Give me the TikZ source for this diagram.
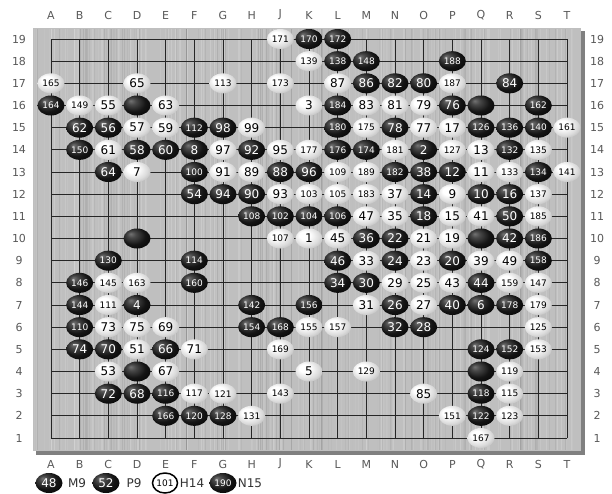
\documentclass[tikz,border=0pt]{standalone}
\usepackage{fontspec}
\setmainfont{DejaVu Sans}
\usetikzlibrary{shapes.geometric}
\pgfdeclareradialshading{blackstone}{\pgfpoint{-12bp}{12bp}}{color(0bp)=(black!55); color(8bp)=(black!72); color(22bp)=(black!92); color(40bp)=(black); color(50bp)=(black)}
\pgfdeclareradialshading{whitestone}{\pgfpoint{-10bp}{10bp}}{color(0bp)=(white); color(10bp)=(white); color(24bp)=(black!14); color(38bp)=(black!35); color(50bp)=(black!55)}
\newcommand\stfont[1]{\ifnum#1>99 \fontsize{9}{9}\selectfont\else\fontsize{12}{12}\selectfont\fi #1}
\tikzset{
  bst/.style={ellipse, minimum width=27pt, minimum height=20pt, inner sep=0pt, shading=blackstone, text=white},
  wst/.style={ellipse, minimum width=27pt, minimum height=20pt, inner sep=0pt, shading=whitestone, text=black},
  lgw/.style={ellipse, minimum width=25pt, minimum height=20pt, inner sep=0pt, draw=black, line width=1.5pt, fill=white, text=black},
  lbl/.style={text=black!65, font=\fontsize{11}{11}\selectfont, inner sep=0pt},
  lgt/.style={text=black!80, font=\fontsize{12}{12}\selectfont, inner sep=0pt},
  gridline/.style={draw=black!85, line width=1pt},
}
\begin{document}
\begin{tikzpicture}[x=1pt,y=-1pt]
\useasboundingbox (0,0) rectangle (612,493);
\fill[white] (0,0) rectangle (612,493);
% board
\fill[black!50] (36,31) rectangle (585,455);
\fill[black!25] (33,28) rectangle (581,451);
\pgfmathsetseed{7}
\foreach \i in {1,...,150}{
  \pgfmathsetmacro\xp{34+546*rnd}
  \pgfmathsetmacro\op{0.04+0.14*rnd}
  \draw[white,opacity=\op,line width=0.8pt] (\xp,29) -- (\xp,450);
}
\foreach \i in {1,...,110}{
  \pgfmathsetmacro\xp{34+546*rnd}
  \pgfmathsetmacro\op{0.02+0.07*rnd}
  \draw[black,opacity=\op,line width=0.7pt] (\xp,29) -- (\xp,450);
}
% grid
\foreach \i in {0,...,18}{
  \draw[gridline] ({51+\i*28.667},39) -- ({51+\i*28.667},438);
  \draw[gridline] (51,{39+\i*22.167}) -- (567,{39+\i*22.167});
}
% coordinate labels
\foreach \L [count=\k from 0] in {A,B,C,D,E,F,G,H,J,K,L,M,N,O,P,Q,R,S,T}{
  \node[lbl] (top\L) at ({51+\k*28.667},15) {\L};
  \node[lbl] (bot\L) at ({51+\k*28.667},464) {\L};
}
\foreach \r in {1,...,19}{
  \node[lbl] (left\r) at (19,{39+(19-\r)*22.167}) {\r};
  \node[lbl] (right\r) at (597,{39+(19-\r)*22.167}) {\r};
}
% stones
\foreach \c/\r/\n in {
9/19/171,10/19/170,11/19/172,
10/18/139,11/18/138,12/18/148,15/18/188,
1/17/165,4/17/65,7/17/113,9/17/173,11/17/87,12/17/86,13/17/82,14/17/80,15/17/187,17/17/84,
1/16/164,2/16/149,3/16/55,4/16/0,5/16/63,10/16/3,11/16/184,12/16/83,13/16/81,14/16/79,15/16/76,16/16/0,18/16/162,
2/15/62,3/15/56,4/15/57,5/15/59,6/15/112,7/15/98,8/15/99,11/15/180,12/15/175,13/15/78,14/15/77,15/15/17,16/15/126,17/15/136,18/15/140,19/15/161,
2/14/150,3/14/61,4/14/58,5/14/60,6/14/8,7/14/97,8/14/92,9/14/95,10/14/177,11/14/176,12/14/174,13/14/181,14/14/2,15/14/127,16/14/13,17/14/132,18/14/135,
3/13/64,4/13/7,6/13/100,7/13/91,8/13/89,9/13/88,10/13/96,11/13/109,12/13/189,13/13/182,14/13/38,15/13/12,16/13/11,17/13/133,18/13/134,19/13/141,
6/12/54,7/12/94,8/12/90,9/12/93,10/12/103,11/12/105,12/12/183,13/12/37,14/12/14,15/12/9,16/12/10,17/12/16,18/12/137,
8/11/108,9/11/102,10/11/104,11/11/106,12/11/47,13/11/35,14/11/18,15/11/15,16/11/41,17/11/50,18/11/185,
4/10/0,9/10/107,10/10/1,11/10/45,12/10/36,13/10/22,14/10/21,15/10/19,16/10/0,17/10/42,18/10/186,
3/9/130,6/9/114,11/9/46,12/9/33,13/9/24,14/9/23,15/9/20,16/9/39,17/9/49,18/9/158,
2/8/146,3/8/145,4/8/163,6/8/160,11/8/34,12/8/30,13/8/29,14/8/25,15/8/43,16/8/44,17/8/159,18/8/147,
2/7/144,3/7/111,4/7/4,8/7/142,10/7/156,12/7/31,13/7/26,14/7/27,15/7/40,16/7/6,17/7/178,18/7/179,
2/6/110,3/6/73,4/6/75,5/6/69,8/6/154,9/6/168,10/6/155,11/6/157,13/6/32,14/6/28,18/6/125,
2/5/74,3/5/70,4/5/51,5/5/66,6/5/71,9/5/169,16/5/124,17/5/152,18/5/153,
3/4/53,4/4/0,5/4/67,10/4/5,12/4/129,16/4/0,17/4/119,
3/3/72,4/3/68,5/3/116,6/3/117,7/3/121,9/3/143,14/3/85,16/3/118,17/3/115,
5/2/166,6/2/120,7/2/128,8/2/131,15/2/151,16/2/122,17/2/123,
16/1/167}{
  \pgfmathsetmacro\xx{51+(\c-1)*28.667}
  \pgfmathsetmacro\yy{39+(19-\r)*22.167}
  \ifnum\n=0
    \node[bst] (s\c-\r) at (\xx,\yy) {};
  \else\ifodd\n
    \node[wst] (s\c-\r) at (\xx,\yy) {\stfont{\n}};
  \else
    \node[bst] (s\c-\r) at (\xx,\yy) {\stfont{\n}};
  \fi\fi
}
% legend
\node[bst] (lg48) at (49,483) {\stfont{48}};
\node[lgt] (lgM9) at (77,483) {M9};
\node[bst] (lg52) at (106,483) {\stfont{52}};
\node[lgt] (lgP9) at (134,483) {P9};
\node[lgw] (lg101) at (165,483) {\stfont{101}};
\node[lgt] (lgH14) at (192,483) {H14};
\node[bst] (lg190) at (223,483) {\stfont{190}};
\node[lgt] (lgN15) at (250,483) {N15};
\end{tikzpicture}
\end{document}
